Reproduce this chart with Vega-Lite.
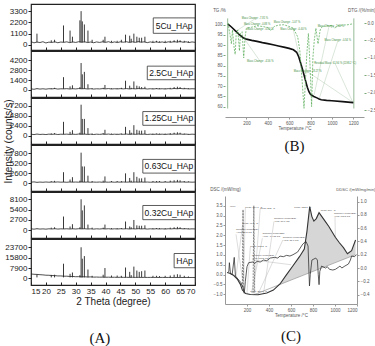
{
"$schema": "https://vega.github.io/schema/vega-lite/v6.json",
"padding": {"left": 2, "top": 3, "right": 0, "bottom": 0},
"background": "white",
"config": {
  "font": "Liberation Sans",
  "view": {"stroke": null},
  "axis": {"grid": false, "labelColor": "#222", "titleColor": "#222", "titleFontWeight": "normal", "domainColor": "#222", "tickColor": "#222", "labelOverlap": false, "tickCount": 40},
  "title": {"font": "Liberation Serif", "fontSize": 15, "fontWeight": "normal", "color": "#111", "anchor": "middle"}
},
"datasets": {
  "base": [
    {"x":15,"a":320,"b":150,"c":350,"d":300,"e":400,"f":3400},
    {"x":16,"a":200,"b":90,"c":250,"d":380,"e":300,"f":3150},
    {"x":17,"a":280,"b":180,"c":380,"d":260,"e":420,"f":3050},
    {"x":18,"a":230,"b":120,"c":280,"d":330,"e":330,"f":2850},
    {"x":19,"a":310,"b":160,"c":330,"d":280,"e":380,"f":2700},
    {"x":20,"a":190,"b":110,"c":260,"d":350,"e":310,"f":2450},
    {"x":21,"a":270,"b":170,"c":360,"d":290,"e":400,"f":2400},
    {"x":22,"a":240,"b":140,"c":300,"d":340,"e":350,"f":2200},
    {"x":23,"a":300,"b":190,"c":380,"d":310,"e":420,"f":2150},
    {"x":24,"a":210,"b":120,"c":270,"d":360,"e":330,"f":1900},
    {"x":25,"a":280,"b":160,"c":340,"d":300,"e":390,"f":1900},
    {"x":26,"a":250,"b":150,"c":320,"d":330,"e":360,"f":1700},
    {"x":27,"a":300,"b":180,"c":360,"d":280,"e":410,"f":1700},
    {"x":28,"a":220,"b":130,"c":290,"d":350,"e":340,"f":1500},
    {"x":29,"a":290,"b":170,"c":350,"d":310,"e":400,"f":1500},
    {"x":30,"a":240,"b":140,"c":300,"d":340,"e":350,"f":1300},
    {"x":31,"a":310,"b":190,"c":380,"d":300,"e":420,"f":1350},
    {"x":32,"a":260,"b":160,"c":330,"d":350,"e":380,"f":1200},
    {"x":33,"a":300,"b":180,"c":370,"d":310,"e":410,"f":1250},
    {"x":34,"a":230,"b":130,"c":290,"d":340,"e":340,"f":1100},
    {"x":35,"a":280,"b":170,"c":340,"d":290,"e":390,"f":1150},
    {"x":36,"a":210,"b":120,"c":270,"d":330,"e":320,"f":1000},
    {"x":37,"a":290,"b":160,"c":350,"d":300,"e":400,"f":1050},
    {"x":38,"a":240,"b":140,"c":300,"d":340,"e":350,"f":950},
    {"x":39,"a":300,"b":180,"c":370,"d":280,"e":410,"f":1000},
    {"x":40,"a":250,"b":150,"c":310,"d":330,"e":360,"f":900},
    {"x":41,"a":310,"b":190,"c":380,"d":300,"e":420,"f":950},
    {"x":42,"a":220,"b":130,"c":280,"d":350,"e":330,"f":850},
    {"x":43,"a":290,"b":170,"c":350,"d":290,"e":400,"f":900},
    {"x":44,"a":230,"b":140,"c":290,"d":340,"e":340,"f":820},
    {"x":45,"a":300,"b":180,"c":360,"d":300,"e":410,"f":880},
    {"x":46,"a":260,"b":150,"c":320,"d":350,"e":370,"f":800},
    {"x":47,"a":310,"b":190,"c":380,"d":310,"e":420,"f":860},
    {"x":48,"a":240,"b":140,"c":300,"d":350,"e":350,"f":780},
    {"x":49,"a":300,"b":180,"c":370,"d":300,"e":410,"f":850},
    {"x":50,"a":250,"b":150,"c":310,"d":340,"e":360,"f":770},
    {"x":51,"a":320,"b":190,"c":390,"d":310,"e":430,"f":830},
    {"x":52,"a":260,"b":160,"c":320,"d":350,"e":370,"f":760},
    {"x":53,"a":300,"b":180,"c":370,"d":300,"e":410,"f":820},
    {"x":54,"a":220,"b":130,"c":280,"d":340,"e":330,"f":750},
    {"x":55,"a":290,"b":170,"c":350,"d":290,"e":400,"f":800},
    {"x":56,"a":230,"b":130,"c":290,"d":330,"e":340,"f":740},
    {"x":57,"a":300,"b":180,"c":360,"d":300,"e":410,"f":790},
    {"x":58,"a":240,"b":140,"c":300,"d":340,"e":350,"f":730},
    {"x":59,"a":290,"b":170,"c":350,"d":290,"e":400,"f":780},
    {"x":60,"a":220,"b":130,"c":280,"d":340,"e":330,"f":720},
    {"x":61,"a":300,"b":180,"c":360,"d":300,"e":410,"f":770},
    {"x":62,"a":260,"b":150,"c":320,"d":350,"e":370,"f":710},
    {"x":63,"a":320,"b":200,"c":390,"d":320,"e":440,"f":760},
    {"x":64,"a":270,"b":170,"c":340,"d":360,"e":390,"f":700},
    {"x":65,"a":330,"b":210,"c":400,"d":330,"e":450,"f":760},
    {"x":66,"a":260,"b":160,"c":320,"d":360,"e":380,"f":700},
    {"x":67,"a":300,"b":180,"c":360,"d":310,"e":410,"f":750},
    {"x":68,"a":230,"b":140,"c":290,"d":340,"e":340,"f":690},
    {"x":69,"a":290,"b":170,"c":350,"d":300,"e":390,"f":740},
    {"x":70,"a":250,"b":150,"c":310,"d":330,"e":360,"f":680}
  ],
  "peaks": [
    {"x":17.0,"a":1100,"b":200,"c":350,"d":350,"e":450,"f":3000},
    {"x":21.8,"a":450,"b":250,"c":550,"d":550,"e":700,"f":2700},
    {"x":22.9,"a":500,"b":300,"c":600,"d":650,"e":800,"f":2800},
    {"x":25.9,"a":1900,"b":1800,"c":3300,"d":2900,"e":3600,"f":11200},
    {"x":28.1,"a":1400,"b":500,"c":900,"d":1000,"e":1000,"f":3500},
    {"x":28.9,"a":800,"b":650,"c":1300,"d":1600,"e":1600,"f":4500},
    {"x":31.4,"a":2400,"b":400,"c":700,"d":700,"e":800,"f":2500},
    {"x":31.8,"a":3300,"b":3800,"c":7400,"d":8000,"e":8100,"f":23700},
    {"x":32.2,"a":2300,"b":2200,"c":4000,"d":4400,"e":5200,"f":15000},
    {"x":32.9,"a":2000,"b":2550,"c":4000,"d":4400,"e":6500,"f":17000},
    {"x":34.1,"a":1400,"b":800,"c":1800,"d":2000,"e":1500,"f":6800},
    {"x":35.5,"a":500,"b":250,"c":500,"d":600,"e":700,"f":2000},
    {"x":39.2,"a":500,"b":300,"c":600,"d":700,"e":700,"f":2800},
    {"x":39.8,"a":800,"b":700,"c":1400,"d":1800,"e":1500,"f":7900},
    {"x":42.0,"a":400,"b":250,"c":500,"d":600,"e":600,"f":2200},
    {"x":43.9,"a":400,"b":250,"c":450,"d":600,"e":600,"f":2200},
    {"x":45.3,"a":500,"b":300,"c":500,"d":600,"e":600,"f":2000},
    {"x":46.7,"a":1000,"b":1300,"c":2100,"d":2600,"e":2300,"f":8300},
    {"x":48.1,"a":900,"b":600,"c":1300,"d":1400,"e":1000,"f":5000},
    {"x":48.6,"a":600,"b":300,"c":700,"d":700,"e":800,"f":2500},
    {"x":49.5,"a":1100,"b":1200,"c":2500,"d":2900,"e":2700,"f":9000},
    {"x":50.5,"a":800,"b":600,"c":1400,"d":1700,"e":1300,"f":6000},
    {"x":51.3,"a":700,"b":500,"c":1200,"d":1300,"e":1200,"f":5000},
    {"x":52.1,"a":700,"b":400,"c":1200,"d":1300,"e":1200,"f":5500},
    {"x":53.2,"a":800,"b":450,"c":1300,"d":1500,"e":1300,"f":6000},
    {"x":55.9,"a":400,"b":250,"c":500,"d":600,"e":600,"f":2000},
    {"x":57.1,"a":400,"b":250,"c":500,"d":600,"e":600,"f":2000},
    {"x":58.1,"a":350,"b":250,"c":500,"d":600,"e":600,"f":1800},
    {"x":60.0,"a":400,"b":250,"c":500,"d":600,"e":600,"f":2000},
    {"x":61.7,"a":400,"b":300,"c":600,"d":700,"e":700,"f":2200},
    {"x":63.0,"a":450,"b":400,"c":700,"d":800,"e":800,"f":2800},
    {"x":64.1,"a":500,"b":450,"c":800,"d":900,"e":900,"f":3200},
    {"x":65.0,"a":450,"b":400,"c":700,"d":800,"e":800,"f":2800},
    {"x":66.4,"a":400,"b":300,"c":500,"d":600,"e":600,"f":2000},
    {"x":67.8,"a":350,"b":250,"c":400,"d":500,"e":500,"f":1500}
  ],
  "tg": [
    {"T":28,"tg":100.2},{"T":60,"tg":98.8},{"T":100,"tg":96.8},{"T":140,"tg":94.8},{"T":170,"tg":93.6},
    {"T":200,"tg":92.9},{"T":250,"tg":92.3},{"T":300,"tg":91.8},{"T":350,"tg":91.2},{"T":400,"tg":90.7},
    {"T":450,"tg":90.2},{"T":500,"tg":89.6},{"T":550,"tg":89.0},{"T":600,"tg":88.4},{"T":640,"tg":87.7},
    {"T":670,"tg":86.5},{"T":690,"tg":84.2},{"T":710,"tg":80.8},{"T":730,"tg":77.3},{"T":750,"tg":73.3},
    {"T":770,"tg":69.5},{"T":785,"tg":67.3},{"T":800,"tg":66.0},{"T":830,"tg":65.0},{"T":860,"tg":64.3},
    {"T":880,"tg":63.8},{"T":900,"tg":63.4},{"T":950,"tg":63.1},{"T":1000,"tg":62.9},{"T":1100,"tg":62.5},{"T":1200,"tg":62.0}
  ],
  "dtg": [
    {"T":28,"dtg":0.0},{"T":45,"dtg":-0.3},{"T":60,"dtg":-0.6},{"T":70,"dtg":-0.2},{"T":85,"dtg":-0.7},
    {"T":95,"dtg":-0.9},{"T":105,"dtg":-0.3},{"T":120,"dtg":-0.2},{"T":135,"dtg":-0.8},{"T":145,"dtg":-0.3},
    {"T":160,"dtg":-0.25},{"T":175,"dtg":-1.0},{"T":188,"dtg":-0.4},{"T":200,"dtg":-0.15},{"T":250,"dtg":-0.12},
    {"T":300,"dtg":-0.08},{"T":350,"dtg":-0.1},{"T":400,"dtg":-0.13},{"T":430,"dtg":-0.22},{"T":460,"dtg":-0.1},
    {"T":500,"dtg":-0.06},{"T":550,"dtg":-0.05},{"T":600,"dtg":-0.1},{"T":640,"dtg":-0.15},{"T":680,"dtg":-0.4},
    {"T":700,"dtg":-0.8},{"T":720,"dtg":-1.6},{"T":739,"dtg":-2.45},{"T":750,"dtg":-1.8},{"T":765,"dtg":-0.9},
    {"T":780,"dtg":-0.3},{"T":795,"dtg":-1.2},{"T":810,"dtg":-2.4},{"T":822,"dtg":-1.0},{"T":835,"dtg":-0.5},
    {"T":850,"dtg":-0.15},{"T":870,"dtg":-0.6},{"T":890,"dtg":-0.2},{"T":910,"dtg":-0.1},{"T":950,"dtg":-0.08},
    {"T":1000,"dtg":-0.07},{"T":1030,"dtg":-0.15},{"T":1050,"dtg":-0.08},{"T":1100,"dtg":-0.06},{"T":1150,"dtg":-0.05},{"T":1200,"dtg":-0.02}
  ],
  "connB": [
    {"T":280,"tg":102.8,"T2":95,"tg2":96.5},
    {"T":640,"tg":97.3,"T2":700,"tg2":83},
    {"T":773,"tg":77,"T2":1200,"tg2":62},
    {"T":1030,"tg":81,"T2":1195,"tg2":62.2},
    {"T":1055,"tg":92,"T2":880,"tg2":63.8},
    {"T":330,"tg":82,"T2":175,"tg2":93.5},
    {"T":971,"tg":98.7,"T2":830,"tg2":65}
  ],
  "lblB": [
    {"T":280,"tg":103,"t":"Mass Change: -7.81 %"},
    {"T":300,"tg":100.2,"t":"Mass Change: -0.88 %"},
    {"T":330,"tg":97.6,"t":"Mass Change: -0.80 %"},
    {"T":580,"tg":101.2,"t":"Mass Change: -1.07 %"},
    {"T":640,"tg":97.6,"t":"Mass Change: -0.40 %"},
    {"T":990,"tg":98.9,"t":"Mass Change: -2.00 %"},
    {"T":1055,"tg":92.2,"t":"Mass Change: -0.34 %"},
    {"T":330,"tg":82.2,"t":"Mass Change: -4.56 %"},
    {"T":1030,"tg":81.2,"t":"Residual Mass: 61.94 % (1198.2 °C)"},
    {"T":773,"tg":77.2,"t":"Mass Change: -18.27 %"}
  ],
  "frameB": [{"T":25},{"T":1205}],
  "dsc": [
    {"T":20,"dsc":0.1},{"T":50,"dsc":0.05},{"T":80,"dsc":-0.05},{"T":114,"dsc":-0.25},{"T":140,"dsc":-0.5},
    {"T":158,"dsc":-0.79},{"T":188,"dsc":-0.97},{"T":230,"dsc":-1.02},{"T":300,"dsc":-1.03},{"T":380,"dsc":-0.94},
    {"T":440,"dsc":-0.79},{"T":500,"dsc":-0.48,"base":-0.504},{"T":558,"dsc":-0.02,"base":-0.376},{"T":618,"dsc":0.45,"base":-0.243},
    {"T":677,"dsc":0.91,"base":-0.112},{"T":721,"dsc":1.3,"base":-0.015},{"T":745,"dsc":2.2,"base":0.038},{"T":770,"dsc":3.46,"base":0.093},
    {"T":790,"dsc":2.95,"base":0.137},{"T":808,"dsc":2.72,"base":0.177},{"T":830,"dsc":2.85,"base":0.226},{"T":855,"dsc":3.15,"base":0.281},
    {"T":900,"dsc":2.8,"base":0.381},{"T":944,"dsc":2.45,"base":0.478},{"T":1003,"dsc":1.9,"base":0.608},{"T":1040,"dsc":1.62,"base":0.69},
    {"T":1077,"dsc":1.37,"base":0.772},{"T":1113,"dsc":1.06,"base":0.852},{"T":1151,"dsc":1.22,"base":0.936},{"T":1187,"dsc":1.76,"base":1.015}
  ],
  "cbase": [{"T":262,"v":-1.03},{"T":1185,"v":1.01}],
  "ddsc": [
    {"T":22,"ddsc":-0.07},{"T":35,"ddsc":-0.05},{"T":40,"ddsc":0.08},{"T":50,"ddsc":-0.09},{"T":65,"ddsc":-0.1},
    {"T":84,"ddsc":0.16},{"T":95,"ddsc":-0.12},{"T":125,"ddsc":-0.18},{"T":145,"ddsc":-0.22},{"T":165,"ddsc":-0.3},
    {"T":175,"ddsc":-0.38},{"T":185,"ddsc":-0.2},{"T":200,"ddsc":0.02},{"T":215,"ddsc":0.08},{"T":250,"ddsc":0.09},
    {"T":270,"ddsc":0.07},{"T":292,"ddsc":0.1},{"T":320,"ddsc":0.09},{"T":350,"ddsc":0.12},{"T":380,"ddsc":0.11},
    {"T":411,"ddsc":0.15},{"T":450,"ddsc":0.16},{"T":480,"ddsc":0.15},{"T":500,"ddsc":0.18},{"T":530,"ddsc":0.17},
    {"T":560,"ddsc":0.19},{"T":590,"ddsc":0.18},{"T":618,"ddsc":0.2},{"T":660,"ddsc":0.24},{"T":707,"ddsc":0.36},
    {"T":736,"ddsc":0.4},{"T":755,"ddsc":0.33},{"T":762,"ddsc":0.0},{"T":768,"ddsc":-0.27},{"T":775,"ddsc":-0.1},
    {"T":790,"ddsc":0.12},{"T":825,"ddsc":0.15},{"T":840,"ddsc":0.12},{"T":848,"ddsc":-0.1},{"T":855,"ddsc":-0.25},
    {"T":862,"ddsc":-0.05},{"T":878,"ddsc":0.03},{"T":914,"ddsc":0.0},{"T":930,"ddsc":0.02},{"T":950,"ddsc":-0.02},
    {"T":980,"ddsc":-0.03},{"T":1003,"ddsc":-0.02},{"T":1030,"ddsc":0.01},{"T":1045,"ddsc":0.03},{"T":1062,"ddsc":0.0},
    {"T":1090,"ddsc":0.03},{"T":1122,"ddsc":0.06},{"T":1140,"ddsc":0.12},{"T":1151,"ddsc":0.18},{"T":1175,"ddsc":0.17},{"T":1196,"ddsc":0.2}
  ],
  "spike": [
    {"g":1,"T":140,"v":-0.45},{"g":1,"T":158,"v":-0.6},{"g":1,"T":164,"v":3.3},{"g":1,"T":170,"v":-0.85},
    {"g":2,"T":255,"v":-0.95},{"g":2,"T":262,"v":3.5},{"g":2,"T":270,"v":-0.95}
  ],
  "connC": [
    {"T":185,"v":3.4,"T2":170,"v2":-0.3},
    {"T":320,"v":3.35,"T2":262,"v2":-0.9},
    {"T":160,"v":2.55,"T2":100,"v2":-0.1},
    {"T":100,"v":2.05,"T2":175,"v2":-0.85},
    {"T":340,"v":1.85,"T2":240,"v2":-0.95},
    {"T":230,"v":1.4,"T2":200,"v2":-0.95},
    {"T":445,"v":2.7,"T2":350,"v2":-0.98},
    {"T":525,"v":1.75,"T2":300,"v2":-1.0},
    {"T":1000,"v":2.95,"T2":1003,"v2":1.9},
    {"T":245,"v":0.75,"T2":600,"v2":0.5}
  ],
  "lblC": [
    {"T":45,"v":3.5,"t":"[exo]"},
    {"T":630,"v":3.45,"t":"Peak: 782.8 °C"},
    {"T":870,"v":3.25,"t":"Peak: 864 °C"},
    {"T":990,"v":3.12,"t":"Complex Peak(IEO)"},
    {"T":990,"v":2.97,"t":"Area: 1398 J/g"},
    {"T":185,"v":3.45,"t":"Peak: 184.7 °C"},
    {"T":320,"v":3.4,"t":"Peak: 262 °C"},
    {"T":160,"v":2.62,"t":"Peak: 97.9 °C"},
    {"T":100,"v":2.3,"t":"Complex Peak(IEO)"},
    {"T":100,"v":2.15,"t":"Area: 12.5 J/g"},
    {"T":340,"v":2.08,"t":"Complex Peak(IEO)"},
    {"T":340,"v":1.93,"t":"Area: -1.475 J/g"},
    {"T":445,"v":2.88,"t":"Complex Peak(IEO)"},
    {"T":445,"v":2.73,"t":"Area: 36.6 J/g"},
    {"T":525,"v":1.92,"t":"Complex Peak(IEO)"},
    {"T":525,"v":1.77,"t":"Area: 15.6 J/g"},
    {"T":230,"v":1.45,"t":"Peak: 172.2 °C"},
    {"T":245,"v":0.98,"t":"Complex Peak(IEO)"},
    {"T":245,"v":0.83,"t":"Area: 1398 J/g"},
    {"T":230,"v":-0.85,"t":"Peak: 261.1 °C"}
  ]
},
"hconcat": [
  {
    "vconcat": [
      {
        "width": 164, "height": 46,
        "view": {"stroke": "#222", "strokeWidth": 1.2},
        "layer": [
          {"data": {"name": "base"}, "mark": {"type": "line", "color": "#222", "strokeWidth": 0.8},
           "encoding": {
             "x": {"field": "x", "type": "quantitative", "scale": {"domain": [15, 70]}, "axis": {"orient": "bottom", "values": [15,20,25,30,35,40,45,50,55,60,65,70], "tickCount": 40, "labels": false, "domain": false, "tickSize": -3, "title": null}},
             "y": {"field": "a", "type": "quantitative", "scale": {"domain": [-471, 3960]}, "axis": {"values": [0,1100,2200,3300], "tickCount": 40, "format": "d", "labelOverlap": false, "labelFontSize": 8, "tickSize": 3, "labelPadding": 1, "domain": false, "title": null}}}},
          {"data": {"name": "peaks"}, "mark": {"type": "rule", "color": "#222", "strokeWidth": 0.9},
           "encoding": {"x": {"field": "x", "type": "quantitative"}, "y": {"field": "a", "type": "quantitative"}, "y2": {"datum": 250}}},
          {"data": {"values": [{}]}, "mark": {"type": "rect", "fill": "white", "stroke": "#333", "strokeWidth": 0.8},
           "encoding": {"x": {"datum": 56}, "x2": {"datum": 70}, "y": {"datum": 2640}, "y2": {"datum": 1132}}},
          {"data": {"values": [{}]}, "mark": {"type": "text", "fontSize": 8.5, "color": "#111", "baseline": "middle"},
           "encoding": {"x": {"datum": 63}, "y": {"datum": 1881}, "text": {"value": "5Cu_HAp"}}}
        ]
      },
      {
        "width": 164, "height": 46,
        "view": {"stroke": "#222", "strokeWidth": 1.2},
        "layer": [
          {"data": {"name": "base"}, "mark": {"type": "line", "color": "#222", "strokeWidth": 0.8},
           "encoding": {
             "x": {"field": "x", "type": "quantitative", "scale": {"domain": [15, 70]}, "axis": {"orient": "bottom", "values": [15,20,25,30,35,40,45,50,55,60,65,70], "tickCount": 40, "labels": false, "domain": false, "tickSize": -3, "title": null}},
             "y": {"field": "b", "type": "quantitative", "scale": {"domain": [-600, 5040]}, "axis": {"values": [0,1400,2800,4200], "tickCount": 40, "format": "d", "labelOverlap": false, "labelFontSize": 8, "tickSize": 3, "labelPadding": 1, "domain": false, "title": null}}}},
          {"data": {"name": "peaks"}, "mark": {"type": "rule", "color": "#222", "strokeWidth": 0.9},
           "encoding": {"x": {"field": "x", "type": "quantitative"}, "y": {"field": "b", "type": "quantitative"}, "y2": {"datum": 150}}},
          {"data": {"values": [{}]}, "mark": {"type": "rect", "fill": "white", "stroke": "#333", "strokeWidth": 0.8},
           "encoding": {"x": {"datum": 54}, "x2": {"datum": 70}, "y": {"datum": 3360}, "y2": {"datum": 1441}}},
          {"data": {"values": [{}]}, "mark": {"type": "text", "fontSize": 8.5, "color": "#111", "baseline": "middle"},
           "encoding": {"x": {"datum": 62}, "y": {"datum": 2394}, "text": {"value": "2.5Cu_HAp"}}}
        ]
      },
      {
        "width": 164, "height": 46,
        "view": {"stroke": "#222", "strokeWidth": 1.2},
        "layer": [
          {"data": {"name": "base"}, "mark": {"type": "line", "color": "#222", "strokeWidth": 0.8},
           "encoding": {
             "x": {"field": "x", "type": "quantitative", "scale": {"domain": [15, 70]}, "axis": {"orient": "bottom", "values": [15,20,25,30,35,40,45,50,55,60,65,70], "tickCount": 40, "labels": false, "domain": false, "tickSize": -3, "title": null}},
             "y": {"field": "c", "type": "quantitative", "scale": {"domain": [-1029, 8640]}, "axis": {"values": [0,2400,4800,7200], "tickCount": 40, "format": "d", "labelOverlap": false, "labelFontSize": 8, "tickSize": 3, "labelPadding": 1, "domain": false, "title": "Intensity (counts/s)", "titleFontSize": 10, "titleY": 43, "titlePadding": -4}}}},
          {"data": {"name": "peaks"}, "mark": {"type": "rule", "color": "#222", "strokeWidth": 0.9},
           "encoding": {"x": {"field": "x", "type": "quantitative"}, "y": {"field": "c", "type": "quantitative"}, "y2": {"datum": 320}}},
          {"data": {"values": [{}]}, "mark": {"type": "rect", "fill": "white", "stroke": "#333", "strokeWidth": 0.8},
           "encoding": {"x": {"datum": 52.5}, "x2": {"datum": 70}, "y": {"datum": 5760}, "y2": {"datum": 2470}}},
          {"data": {"values": [{}]}, "mark": {"type": "text", "fontSize": 8.5, "color": "#111", "baseline": "middle"},
           "encoding": {"x": {"datum": 61.25}, "y": {"datum": 4104}, "text": {"value": "1.25Cu_HAp"}}}
        ]
      },
      {
        "width": 164, "height": 46,
        "view": {"stroke": "#222", "strokeWidth": 1.2},
        "layer": [
          {"data": {"name": "base"}, "mark": {"type": "line", "color": "#222", "strokeWidth": 0.8},
           "encoding": {
             "x": {"field": "x", "type": "quantitative", "scale": {"domain": [15, 70]}, "axis": {"orient": "bottom", "values": [15,20,25,30,35,40,45,50,55,60,65,70], "tickCount": 40, "labels": false, "domain": false, "tickSize": -3, "title": null}},
             "y": {"field": "d", "type": "quantitative", "scale": {"domain": [-1114, 9360]}, "axis": {"values": [0,2600,5200,7800], "tickCount": 40, "format": "d", "labelOverlap": false, "labelFontSize": 8, "tickSize": 3, "labelPadding": 1, "domain": false, "title": null}}}},
          {"data": {"name": "peaks"}, "mark": {"type": "rule", "color": "#222", "strokeWidth": 0.9},
           "encoding": {"x": {"field": "x", "type": "quantitative"}, "y": {"field": "d", "type": "quantitative"}, "y2": {"datum": 320}}},
          {"data": {"values": [{}]}, "mark": {"type": "rect", "fill": "white", "stroke": "#333", "strokeWidth": 0.8},
           "encoding": {"x": {"datum": 52.5}, "x2": {"datum": 70}, "y": {"datum": 6240}, "y2": {"datum": 2675}}},
          {"data": {"values": [{}]}, "mark": {"type": "text", "fontSize": 8.5, "color": "#111", "baseline": "middle"},
           "encoding": {"x": {"datum": 61.25}, "y": {"datum": 4446}, "text": {"value": "0.63Cu_HAp"}}}
        ]
      },
      {
        "width": 164, "height": 46,
        "view": {"stroke": "#222", "strokeWidth": 1.2},
        "layer": [
          {"data": {"name": "base"}, "mark": {"type": "line", "color": "#222", "strokeWidth": 0.8},
           "encoding": {
             "x": {"field": "x", "type": "quantitative", "scale": {"domain": [15, 70]}, "axis": {"orient": "bottom", "values": [15,20,25,30,35,40,45,50,55,60,65,70], "tickCount": 40, "labels": false, "domain": false, "tickSize": -3, "title": null}},
             "y": {"field": "e", "type": "quantitative", "scale": {"domain": [-1157, 9720]}, "axis": {"values": [0,2700,5400,8100], "tickCount": 40, "format": "d", "labelOverlap": false, "labelFontSize": 8, "tickSize": 3, "labelPadding": 1, "domain": false, "title": null}}}},
          {"data": {"name": "peaks"}, "mark": {"type": "rule", "color": "#222", "strokeWidth": 0.9},
           "encoding": {"x": {"field": "x", "type": "quantitative"}, "y": {"field": "e", "type": "quantitative"}, "y2": {"datum": 370}}},
          {"data": {"values": [{}]}, "mark": {"type": "rect", "fill": "white", "stroke": "#333", "strokeWidth": 0.8},
           "encoding": {"x": {"datum": 52.5}, "x2": {"datum": 70}, "y": {"datum": 6480}, "y2": {"datum": 2778}}},
          {"data": {"values": [{}]}, "mark": {"type": "text", "fontSize": 8.5, "color": "#111", "baseline": "middle"},
           "encoding": {"x": {"datum": 61.25}, "y": {"datum": 4617}, "text": {"value": "0.32Cu_HAp"}}}
        ]
      },
      {
        "width": 164, "height": 46,
        "view": {"stroke": "#222", "strokeWidth": 1.2},
        "layer": [
          {"data": {"name": "base"}, "mark": {"type": "line", "color": "#222", "strokeWidth": 0.8},
           "encoding": {
             "x": {"field": "x", "type": "quantitative", "scale": {"domain": [15, 70]}, "axis": {"orient": "bottom", "values": [15,20,25,30,35,40,45,50,55,60,65,70], "tickCount": 40, "labelOverlap": false, "labelFontSize": 8, "domain": false, "tickSize": -3, "labelPadding": 5, "title": "2 Theta (degree)", "titleFontSize": 10, "titlePadding": 1}},
             "y": {"field": "f", "type": "quantitative", "scale": {"domain": [-3386, 28440]}, "axis": {"values": [0,7900,15800,23700], "tickCount": 40, "format": "d", "labelOverlap": false, "labelFontSize": 8, "tickSize": 3, "labelPadding": 1, "domain": false, "title": null}}}},
          {"data": {"name": "peaks"}, "mark": {"type": "rule", "color": "#222", "strokeWidth": 0.9},
           "encoding": {"x": {"field": "x", "type": "quantitative"}, "y": {"field": "f", "type": "quantitative"}, "y2": {"datum": 800}}},
          {"data": {"values": [{}]}, "mark": {"type": "rect", "fill": "white", "stroke": "#333", "strokeWidth": 0.8},
           "encoding": {"x": {"datum": 63}, "x2": {"datum": 70}, "y": {"datum": 18960}, "y2": {"datum": 8129}}},
          {"data": {"values": [{}]}, "mark": {"type": "text", "fontSize": 8.5, "color": "#111", "baseline": "middle"},
           "encoding": {"x": {"datum": 66.5}, "y": {"datum": 13509}, "text": {"value": "HAp"}}}
        ]
      }
    ],
    "spacing": 1,
    "bounds": "flush",
    "title": {"text": "(A)", "orient": "bottom", "offset": 24, "anchor": "middle"},
    "resolve": {"scale": {"y": "independent"}}
  },
  {
    "vconcat": [
      {
        "width": 139, "height": 113,
        "title": {"text": "(B)", "orient": "bottom", "offset": 9, "anchor": "middle"},
        "layer": [
          {"layer": [
            {"data": {"name": "connB"}, "mark": {"type": "rule", "color": "#b5ccb5", "strokeWidth": 0.5},
             "encoding": {
               "x": {"field": "T", "type": "quantitative", "scale": {"domain": [25, 1205]}, "axis": {"values": [200,400,600,800,1000,1200], "tickCount": 40, "format": "d", "labelOverlap": false, "labelFontSize": 4.5, "labelColor": "#555", "tickSize": 2, "labelPadding": 1, "domainColor": "#999", "tickColor": "#999", "title": "Temperature /°C", "titleFontSize": 4.5, "titleColor": "#555", "titlePadding": 1}},
               "y": {"field": "tg", "type": "quantitative", "scale": {"domain": [59.13, 108.26]}, "axis": {"values": [60,65,70,75,80,85,90,95,100], "tickCount": 40, "labelOverlap": false, "labelFontSize": 4.5, "labelColor": "#555", "tickSize": 2, "labelPadding": 1, "domain": false, "tickColor": "#7aa87a", "title": "TG /%", "titleFontSize": 4.5, "titleColor": "#555", "titleAngle": 0, "titleX": -6, "titleY": 6, "titleAlign": "center", "titleBaseline": "middle"}},
               "x2": {"field": "T2"}, "y2": {"field": "tg2"}}},
            {"data": {"name": "frameB"}, "mark": {"type": "rule", "color": "#7aa87a", "strokeWidth": 0.8},
             "encoding": {"x": {"field": "T", "type": "quantitative"}, "y": {"datum": 59.13}, "y2": {"datum": 103}}},
            {"data": {"name": "tg"}, "mark": {"type": "line", "color": "#111", "strokeWidth": 1.6},
             "encoding": {"x": {"field": "T", "type": "quantitative"}, "y": {"field": "tg", "type": "quantitative"}}},
            {"data": {"name": "lblB"}, "mark": {"type": "text", "fontSize": 2.6, "color": "#3a8a3a"},
             "encoding": {"x": {"field": "T", "type": "quantitative"}, "y": {"field": "tg", "type": "quantitative"}, "text": {"field": "t"}}}
          ]},
          {"data": {"name": "dtg"}, "mark": {"type": "line", "color": "#4fa84f", "strokeWidth": 0.7, "strokeDash": [2, 1.2]},
           "encoding": {
             "x": {"field": "T", "type": "quantitative"},
             "y": {"field": "dtg", "type": "quantitative", "scale": {"domain": [-2.7, 0.546]}, "axis": {"orient": "right", "values": [0,-0.5,-1,-1.5,-2,-2.5], "tickCount": 40, "format": ".1f", "labelOverlap": false, "labelFontSize": 4.5, "labelColor": "#555", "tickSize": 2, "labelPadding": 1, "domain": false, "tickColor": "#7aa87a", "title": "DTG /(%/min)", "titleFontSize": 4.5, "titleColor": "#555", "titleAngle": 0, "titleX": 11, "titleY": 6, "titleAlign": "right", "titleBaseline": "middle"}}}}
        ],
        "resolve": {"scale": {"y": "independent"}}
      },
      {
        "width": 132, "height": 108,
        "title": {"text": "(C)", "orient": "bottom", "offset": 12, "anchor": "middle"},
        "layer": [
          {"layer": [
            {"data": {"name": "dsc"}, "transform": [{"filter": "datum.base != null"}], "mark": {"type": "area", "color": "#d6d6d6"},
             "encoding": {
               "x": {"field": "T", "type": "quantitative", "scale": {"domain": [20, 1200]}, "axis": {"values": [200,400,600,800,1000,1200], "tickCount": 40, "format": "d", "labelOverlap": false, "labelFontSize": 4.5, "labelColor": "#555", "tickSize": 2, "labelPadding": 1, "domainColor": "#999", "tickColor": "#999", "title": "Temperature /°C", "titleFontSize": 4.5, "titleColor": "#555", "titlePadding": 1}},
               "y": {"field": "dsc", "type": "quantitative", "scale": {"domain": [-1.39, 3.61]}, "axis": {"values": [-1,-0.5,0,0.5,1,1.5,2,2.5,3,3.5], "tickCount": 40, "format": ".1f", "labelOverlap": false, "labelFontSize": 4.5, "labelColor": "#555", "tickSize": 2, "labelPadding": 1, "domainColor": "#999", "tickColor": "#999", "title": "DSC /(mW/mg)", "titleFontSize": 4.5, "titleColor": "#555", "titleAngle": 0, "titleX": 0, "titleY": -7, "titleAlign": "center", "titleBaseline": "middle"}},
               "y2": {"field": "base"}}},
            {"data": {"name": "connC"}, "mark": {"type": "rule", "color": "#bbb", "strokeWidth": 0.5},
             "encoding": {"x": {"field": "T", "type": "quantitative"}, "y": {"field": "v", "type": "quantitative"}, "x2": {"field": "T2"}, "y2": {"field": "v2"}}},
            {"data": {"name": "cbase"}, "mark": {"type": "line", "color": "#888", "strokeWidth": 0.6},
             "encoding": {"x": {"field": "T", "type": "quantitative"}, "y": {"field": "v", "type": "quantitative"}}},
            {"data": {"name": "spike"}, "mark": {"type": "line", "color": "#555", "strokeWidth": 0.7, "strokeDash": [2, 1]},
             "encoding": {"x": {"field": "T", "type": "quantitative"}, "y": {"field": "v", "type": "quantitative"}, "detail": {"field": "g"}}},
            {"data": {"name": "dsc"}, "mark": {"type": "line", "color": "#333", "strokeWidth": 1.1},
             "encoding": {"x": {"field": "T", "type": "quantitative"}, "y": {"field": "dsc", "type": "quantitative"}}},
            {"data": {"name": "lblC"}, "mark": {"type": "text", "fontSize": 2.5, "color": "#444", "align": "left"},
             "encoding": {"x": {"field": "T", "type": "quantitative"}, "y": {"field": "v", "type": "quantitative"}, "text": {"field": "t"}}}
          ]},
          {"data": {"name": "ddsc"}, "mark": {"type": "line", "color": "#333", "strokeWidth": 0.8},
           "encoding": {
             "x": {"field": "T", "type": "quantitative"},
             "y": {"field": "ddsc", "type": "quantitative", "scale": {"domain": [-0.541, 1.083]}, "axis": {"orient": "right", "values": [-0.4,-0.2,0,0.2,0.4,0.6,0.8,1.0], "tickCount": 40, "format": ".1f", "labelOverlap": false, "labelFontSize": 4.5, "labelColor": "#555", "tickSize": 2, "labelPadding": 1, "domainColor": "#999", "tickColor": "#999", "title": "DDSC /(mW/mg/min)", "titleFontSize": 4.2, "titleColor": "#555", "titleAngle": 0, "titleX": 18, "titleY": -7, "titleAlign": "right", "titleBaseline": "middle"}}}}
        ],
        "resolve": {"scale": {"y": "independent"}}
      }
    ],
    "spacing": 79,
    "bounds": "flush"
  }
],
"spacing": 11,
"bounds": "full"
}
